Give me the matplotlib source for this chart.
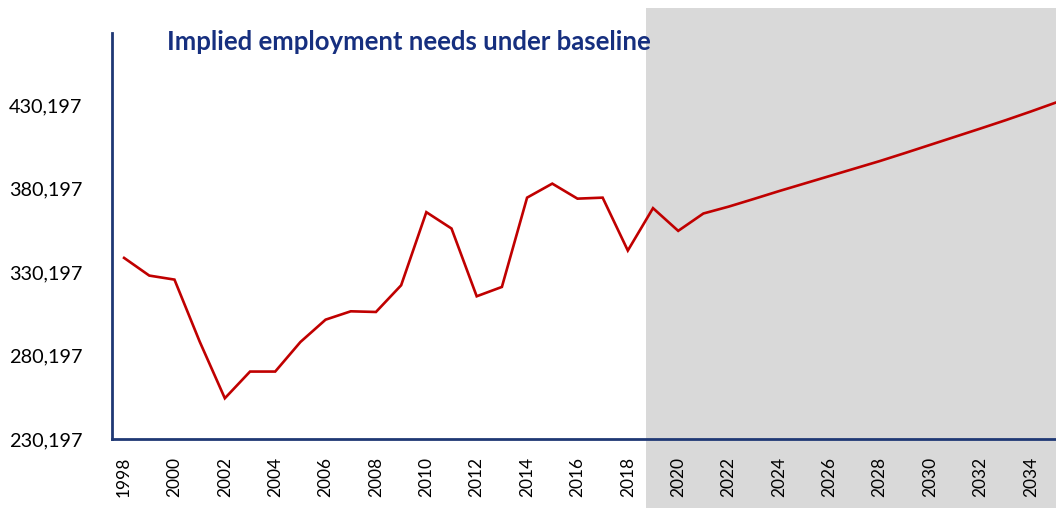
import matplotlib
matplotlib.use("Agg")
import matplotlib.pyplot as plt
from matplotlib.patches import Rectangle

years = list(range(1998, 2036))
employment = [
    338700, 328100, 325700, 288600, 254600, 270600, 270600, 288300, 301700, 306700,
    306300, 322300, 366100, 356300, 315700, 321300, 374800, 383200, 374200, 374800,
    343100, 368500, 354900, 365300, 369400, 374000, 378700, 383200, 387700, 392200,
    396700, 401500, 406400, 411300, 416200, 421200, 426400, 431800,
]
y_ticks = [230197, 280197, 330197, 380197, 430197]
x_ticks = list(range(1998, 2036, 2))
title = "Implied employment needs under baseline"
projection_start = 2018.72

navy = "#1F3874"
red = "#C00000"
shade = "#D9D9D9"

plt.rcParams["font.family"] = ["Lato", "DejaVu Sans"]

fig = plt.figure(figsize=(10.56, 5.08), dpi=100)
ax = fig.add_axes([112 / 1056, 69 / 508, 1 - 112 / 1056, (439 - 33) / 508])
ax.set_xlim(1997.52, 2035.0)
ax.set_ylim(230197, 473440)
ax.patch.set_alpha(0)

# projection period shading spans the full figure height, behind the axes
x0_fig = fig.transFigure.inverted().transform(ax.transData.transform((projection_start, 0)))[0]
fig.patches.append(Rectangle((x0_fig, 0), 1 - x0_fig, 1 - 8 / 508,
                             transform=fig.transFigure, facecolor=shade,
                             edgecolor="none", zorder=-5))

ax.plot(years, employment, color=red, lw=1.9, solid_joinstyle="miter", zorder=3, clip_on=False)

for s in ["top", "right"]:
    ax.spines[s].set_visible(False)
for s in ["left", "bottom"]:
    ax.spines[s].set_color(navy)
    ax.spines[s].set_linewidth(2)

ax.set_yticks(y_ticks)
ax.set_yticklabels([f"{v:,}" for v in y_ticks], fontsize=14.3)
ax.set_xticks(x_ticks)
ax.set_xticklabels([str(y) for y in x_ticks], rotation=90, fontsize=12.5)
ax.tick_params(axis="both", length=0, colors="black")
ax.tick_params(axis="y", pad=74)
ax.tick_params(axis="x", pad=13)
for lbl in ax.get_yticklabels():
    lbl.set_horizontalalignment("left")

fig.text(167 / 1056, 1 - 42 / 508, title, fontsize=18.5, fontweight="bold",
         color="#162F7F", va="center", ha="left")

fig.savefig("out.png", dpi=100)
